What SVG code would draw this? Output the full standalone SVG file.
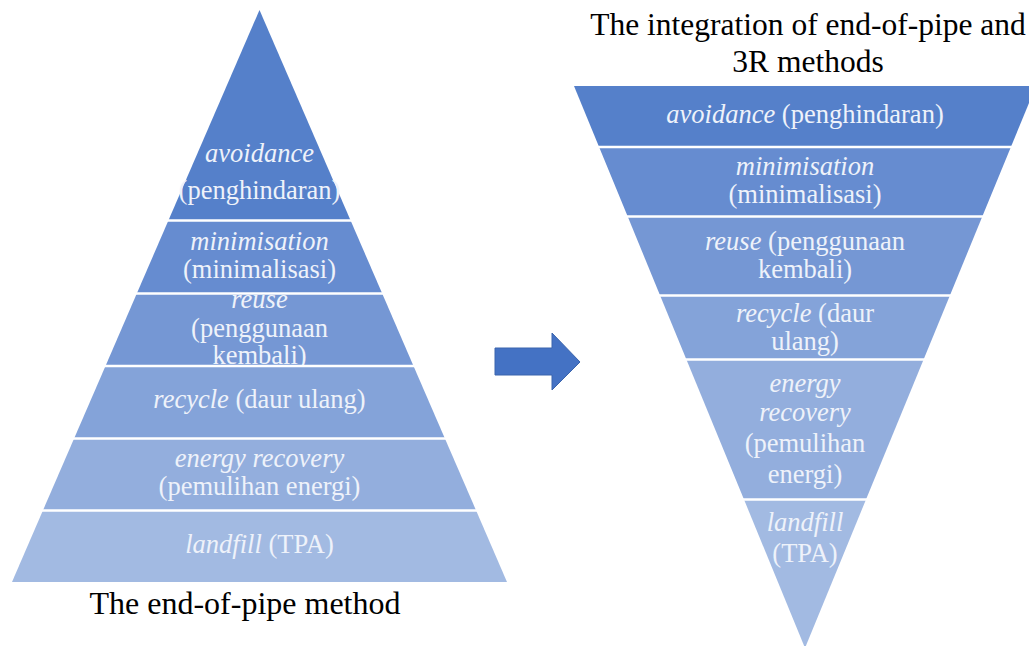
<svg xmlns="http://www.w3.org/2000/svg" width="1029" height="646" viewBox="0 0 1029 646" font-family="'Liberation Serif', 'Times New Roman', Tinos, 'DejaVu Serif', serif">
<style>
text{font-family:'Liberation Serif','Times New Roman',Tinos,'DejaVu Serif',serif}
.t{font-size:26.5px;fill:#eef2fa;text-anchor:middle}
.i{font-style:italic}
.title{font-size:31.5px;fill:#000;text-anchor:middle}
.sep{stroke:#fff;stroke-width:2.6}
.c1{fill:#5580ca}.c2{fill:#668cd0}.c3{fill:#7597d4}.c4{fill:#84a3d9}.c5{fill:#93aedd}.c6{fill:#a2bae2}
</style>
<rect width="1029" height="646" fill="#fff"/>
<g id="left-pyramid">
<g id="l-avoidance">
<polygon class="c1" points="259.5,10 350.6,220.5 168.4,220.5"/>
<text class="t i" x="259.5" y="162">avoidance</text>
<text class="t" x="259.5" y="199">(penghindaran)</text>
</g>
<g id="l-minimisation">
<polygon class="c2" points="168.4,220.5 350.6,220.5 382.2,293.5 136.8,293.5"/>
<text class="t i" x="259.5" y="250">minimisation</text>
<text class="t" x="259.5" y="278">(minimalisasi)</text>
</g>
<g id="l-reuse">
<polygon class="c3" points="136.8,293.5 382.2,293.5 413.5,366 105.5,366"/>
<text class="t i" x="259.5" y="308">reuse</text>
<text class="t" x="259.5" y="337">(penggunaan</text>
<text class="t" x="259.5" y="364">kembali)</text>
</g>
<g id="l-recycle">
<polygon class="c4" points="105.5,366 413.5,366 444.9,438.5 74.1,438.5"/>
<text class="t" x="259.5" y="408"><tspan class="i">recycle</tspan> (daur ulang)</text>
</g>
<g id="l-energy">
<polygon class="c5" points="74.1,438.5 444.9,438.5 476.1,510.5 42.9,510.5"/>
<text class="t i" x="259.5" y="467">energy recovery</text>
<text class="t" x="259.5" y="495">(pemulihan energi)</text>
</g>
<g id="l-landfill">
<polygon class="c6" points="42.9,510.5 476.1,510.5 507,582 12,582"/>
<text class="t" x="259.5" y="553"><tspan class="i">landfill</tspan> (TPA)</text>
</g>
<g id="l-separators">
<line class="sep" x1="150" y1="220.5" x2="370" y2="220.5"/>
<line class="sep" x1="120" y1="293.5" x2="400" y2="293.5"/>
<line class="sep" x1="90" y1="366" x2="430" y2="366"/>
<line class="sep" x1="60" y1="438.5" x2="460" y2="438.5"/>
<line class="sep" x1="30" y1="510.5" x2="490" y2="510.5"/>
</g>
<text id="l-title" class="title" x="245" y="614" style="font-size:32px">The end-of-pipe method</text>
</g>
<g id="right-pyramid">
<text id="r-title" class="title"><tspan x="808" y="35">The integration of end-of-pipe and</tspan><tspan x="808" y="72">3R methods</tspan></text>
<g id="r-avoidance">
<polygon class="c1" points="574,86 1036,86 1010.9,147 599.1,147"/>
<text class="t" x="805" y="123"><tspan class="i">avoidance</tspan> (penghindaran)</text>
</g>
<g id="r-minimisation">
<polygon class="c2" points="599.1,147 1010.9,147 982.3,216.5 627.7,216.5"/>
<text class="t i" x="805" y="175">minimisation</text>
<text class="t" x="805" y="203">(minimalisasi)</text>
</g>
<g id="r-reuse">
<polygon class="c3" points="627.7,216.5 982.3,216.5 949.9,295.5 660.1,295.5"/>
<text class="t" x="805" y="250"><tspan class="i">reuse</tspan> (penggunaan</text>
<text class="t" x="805" y="278">kembali)</text>
</g>
<g id="r-recycle">
<polygon class="c4" points="660.1,295.5 949.9,295.5 923.6,359.5 686.4,359.5"/>
<text class="t" x="805" y="322"><tspan class="i">recycle</tspan> (daur</text>
<text class="t" x="805" y="350">ulang)</text>
</g>
<g id="r-energy">
<polygon class="c5" points="686.4,359.5 923.6,359.5 866,499.5 744,499.5"/>
<text class="t i" x="805" y="392">energy</text>
<text class="t i" x="805" y="421">recovery</text>
<text class="t" x="805" y="452">(pemulihan</text>
<text class="t" x="805" y="483">energi)</text>
</g>
<g id="r-landfill">
<polygon class="c6" points="744,499.5 866,499.5 805,648"/>
<text class="t i" x="805" y="531">landfill</text>
<text class="t" x="805" y="562">(TPA)</text>
</g>
<g id="r-separators">
<line class="sep" x1="580" y1="147" x2="1029" y2="147"/>
<line class="sep" x1="610" y1="216.5" x2="1000" y2="216.5"/>
<line class="sep" x1="640" y1="295.5" x2="970" y2="295.5"/>
<line class="sep" x1="670" y1="359.5" x2="940" y2="359.5"/>
<line class="sep" x1="730" y1="499.5" x2="880" y2="499.5"/>
</g>
</g>
<g id="connectors">
<polygon points="495,348 552,348 552,333 580,362 552,390 552,375 495,375" fill="#4472c4" stroke="#3a64ad" stroke-width="1"/>
</g>
</svg>
